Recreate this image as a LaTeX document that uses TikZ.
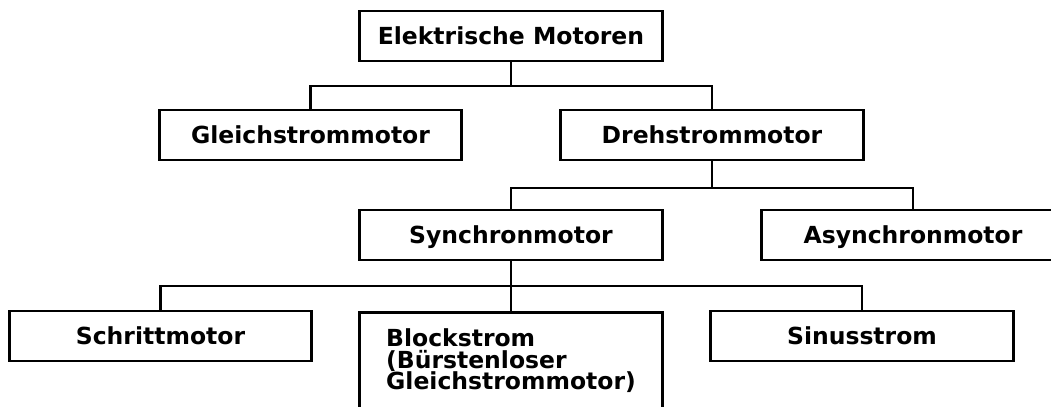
\documentclass[tikz,border=0pt]{standalone}
\usepackage{fontspec}
\setmainfont{DejaVu Sans}
\newcommand\tightlines{\setlength{\lineskiplimit}{-20pt}}
\begin{document}
\begin{tikzpicture}[
        x=0.025cm, y=-0.025cm,
        line width=2.1pt,
        motor/.style={rectangle, draw, minimum width=7.55cm, minimum height=1.25cm, inner sep=0pt,
            font=\fontsize{16.7}{15.6}\selectfont\bfseries, text height=15.9pt, text depth=3.7pt},
        multi/.style={rectangle, draw, minimum width=7.55cm, inner sep=0pt, align=left,
            font={\fontsize{16.7}{15.6}\selectfont\bfseries\tightlines},
            text height=55.1pt, text depth=40pt}
    ]
    \useasboundingbox (0,0) rectangle (1051,407);
    \clip (0,0) rectangle (1051,407);
    % Top
    \node[motor] (elmot) at (511,36) {Elektrische Motoren};
    % Second level
    \node[motor] (gleich) at (310.5,135) {Gleichstrommotor};
    \node[motor] (dreh) at (712,135) {Drehstrommotor};
    % Third level
    \node[motor] (synch) at (511,235) {Synchronmotor};
    \node[motor] (asynch) at (913,235) {Asynchronmotor};
    % Fourth level
    \node[motor] (schritt) at (160.5,336) {Schrittmotor};
    \node[multi, anchor=north] (block) at (511,311) {Blockstrom\\(Bürstenloser\\Gleichstrommotor)};
    \node[motor] (sinus) at (862,336) {Sinusstrom};

    % Junctions
    \coordinate (j1) at (511,86);
    \coordinate (j2) at (712,188);
    \coordinate (j3) at (511,286);

    % Connectors
    \draw (elmot.south) -- (j1) -| (gleich.north);
    \draw (j1) -| (dreh.north);
    \draw (dreh.south) -- (j2) -| (synch.north);
    \draw (j2) -| (asynch.north);
    \draw (synch.south) -- (j3) -| (schritt.north);
    \draw (j3) -- (block.north);
    \draw (j3) -| (sinus.north);
\end{tikzpicture}
\end{document}
